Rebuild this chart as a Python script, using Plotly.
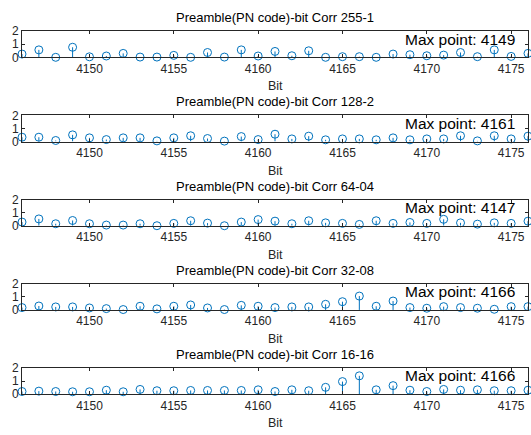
import plotly.graph_objects as go

bits = list(range(4146, 4177))

titles = [
    "Preamble(PN code)-bit Corr 255-1",
    "Preamble(PN code)-bit Corr 128-2",
    "Preamble(PN code)-bit Corr 64-04",
    "Preamble(PN code)-bit Corr 32-08",
    "Preamble(PN code)-bit Corr 16-16",
]
max_points = [4149, 4161, 4147, 4166, 4166]

corr_255_1 = [0.25, 0.57, 0.0, 0.77, 0.04, 0.1, 0.3, 0.02, 0.02, 0.15, 0.0,
              0.37, 0.02, 0.57, 0.1, 0.45, 0.12, 0.5, 0.0, 0.05, 0.05, 0.0,
              0.25, 0.2, 0.12, 0.17, 0.37, 0.05, 0.57, 0.07, 0.3]
corr_128_2 = [0.33, 0.33, 0.08, 0.51, 0.28, 0.15, 0.28, 0.28, 0.05, 0.28, 0.44,
              0.23, 0.03, 0.38, 0.15, 0.56, 0.2, 0.41, 0.13, 0.2, 0.2, 0.13,
              0.28, 0.13, 0.2, 0.2, 0.44, 0.05, 0.44, 0.2, 0.41]
corr_64_04 = [0.28, 0.52, 0.15, 0.4, 0.15, 0.05, 0.05, 0.15, 0.0, 0.18, 0.38,
              0.2, 0.0, 0.28, 0.47, 0.35, 0.15, 0.38, 0.22, 0.18, 0.1, 0.38,
              0.18, 0.25, 0.18, 0.49, 0.22, 0.12, 0.22, 0.18, 0.35]
corr_32_08 = [0.18, 0.3, 0.23, 0.23, 0.15, 0.1, 0.03, 0.28, 0.08, 0.28, 0.38,
              0.15, 0.03, 0.35, 0.28, 0.18, 0.23, 0.23, 0.43, 0.63, 1.06, 0.28,
              0.68, 0.18, 0.13, 0.25, 0.18, 0.13, 0.05, 0.25, 0.25]
corr_16_16 = [0.2, 0.23, 0.2, 0.18, 0.18, 0.3, 0.18, 0.36, 0.26, 0.26, 0.28,
              0.28, 0.28, 0.28, 0.33, 0.2, 0.33, 0.26, 0.52, 0.96, 1.4, 0.33,
              0.65, 0.3, 0.2, 0.36, 0.3, 0.33, 0.26, 0.26, 0.3]
series = [corr_255_1, corr_128_2, corr_64_04, corr_32_08, corr_16_16]

x_ticks = [4150, 4155, 4160, 4165, 4170, 4175]
y_ticks = [0, 1, 2]

W, H = 531, 435
left_px, right_px = 22, 528
tops_px = [25, 112, 199, 286, 373]
h_px = 27
blue = "#0072BD"
axc = "#262626"
font = "Liberation Sans, Arial, sans-serif"

fig = go.Figure()
annotations = []
layout = dict(width=W, height=H, margin=dict(l=0, r=0, t=0, b=0),
              paper_bgcolor="white", plot_bgcolor="white", showlegend=False,
              font=dict(family=font, size=12, color=axc))

for i, (ys, title, mp) in enumerate(zip(series, titles, max_points)):
    n = "" if i == 0 else str(i + 1)
    top = tops_px[i]
    bot = top + h_px
    dom_y = [1 - bot / H, 1 - top / H]
    fig.add_trace(go.Scatter(
        x=bits, y=ys, mode="markers", xaxis="x" + n, yaxis="y" + n,
        marker=dict(symbol="circle-open", size=8, color=blue, line=dict(width=1, color=blue)),
        error_y=dict(type="data", symmetric=False, array=[0] * len(ys), arrayminus=ys,
                     width=0, thickness=1, color=blue),
        cliponaxis=False, hoverinfo="skip",
    ))
    layout["xaxis" + n] = dict(
        domain=[left_px / W, right_px / W], range=[4146, 4176], anchor="y" + n,
        tickvals=x_ticks, ticks="inside", ticklen=3, tickcolor=axc, tickwidth=1,
        showline=True, linecolor=axc, linewidth=1, mirror="ticks",
        showgrid=False, zeroline=False, tickfont=dict(size=12, color=axc),
    )
    layout["yaxis" + n] = dict(
        domain=dom_y, range=[0, 2], anchor="x" + n,
        tickvals=y_ticks, ticks="inside", ticklen=3, tickcolor=axc, tickwidth=1,
        showline=True, linecolor=axc, linewidth=1, mirror="ticks",
        showgrid=False, zeroline=False, tickfont=dict(size=12, color=axc),
    )
    annotations.append(dict(
        text=title, xref="paper", yref="paper", x=(left_px + right_px) / 2 / W,
        y=1 - top / H, yanchor="bottom", xanchor="center", showarrow=False,
        yshift=4, font=dict(size=13, color="black", family=font),
    ))
    annotations.append(dict(
        text="Bit", xref="paper", yref="paper", x=(left_px + right_px) / 2 / W,
        y=1 - bot / H, yanchor="top", xanchor="center", showarrow=False,
        yshift=-20, font=dict(size=12.5, color=axc, family=font),
    ))
    annotations.append(dict(
        text="Max point: " + str(mp), xref="x" + n, yref="y" + n, x=4168.6, y=1.4,
        xanchor="left", yanchor="middle", showarrow=False,
        font=dict(size=15.5, color="black", family=font),
    ))

layout["annotations"] = annotations
fig.update_layout(**layout)
fig.write_html(
    "out.html",
    config={"displayModeBar": False},
    post_script=("document.documentElement.style.margin='0px';"
                 "document.documentElement.style.overflow='hidden';"
                 "document.body.style.margin='0px';"
                 "document.body.style.overflow='hidden';"
                 "var gd=document.getElementById('{plot_id}');"
                 "gd.style.position='fixed';gd.style.top='0px';gd.style.left='0px';"),
)
